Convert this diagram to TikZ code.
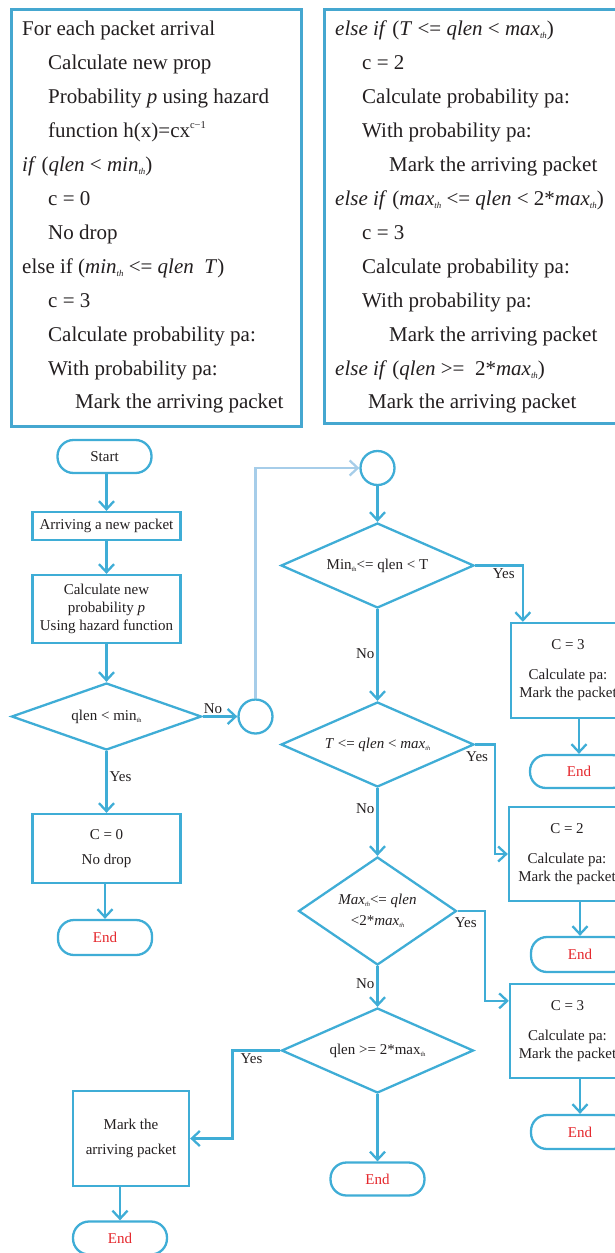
\documentclass[tikz,border=0pt]{standalone}
\usepackage{fontspec}
\setmainfont{Liberation Serif}
\usepackage{graphicx}
\usepackage{tikz}
\usetikzlibrary{arrows.meta,shapes.geometric}
\usepackage{xcolor}
\definecolor{Flow}{HTML}{3FADD6}
\definecolor{Frame}{HTML}{45A7D0}
\definecolor{Pale}{HTML}{A6CDE9}
\definecolor{Ink}{HTML}{231F20}
\definecolor{EndRed}{HTML}{E5262B}
\newcommand{\lowsub}[1]{\raisebox{-0.35ex}{\scalebox{0.42}{#1}}}
\newcommand{\highsup}[1]{\raisebox{0.9ex}{\scalebox{0.5}{#1}}}
\tikzset{
 codebox/.style={draw=Frame, line width=3.2pt, fill=white, anchor=north west, inner sep=0pt},
 codeline/.style={anchor=base west, inner sep=0pt, text=Ink, font=\fontsize{21}{24}\selectfont},
 box/.style={draw=Flow, line width=2.3pt, fill=white, align=center, inner sep=2pt, text=Ink, font=\fontsize{15}{18}\selectfont},
 term/.style={box, rounded corners=16pt, minimum width=94pt, minimum height=33pt},
 endterm/.style={term, text=EndRed},
 decision/.style={box, diamond, shape aspect=2.2, inner sep=0pt},
 joint/.style={circle, draw=Flow, line width=2.3pt, minimum size=34pt, inner sep=0pt},
 flow/.style={-{Straight Barb[length=8pt,width=15pt]}, line width=2.3pt, draw=Flow},
 faint/.style={flow, draw=Pale},
 lbl/.style={text=Ink, inner sep=2pt, font=\fontsize{15}{18}\selectfont}
}

\begin{document}
\begin{tikzpicture}[x=1pt,y=-1pt]
\useasboundingbox (0,0) rectangle (614,1253);
% pseudo code
\node[codebox, minimum width=290pt, minimum height=417pt] (leftcode) at (10,8) {};
\node[codebox, minimum width=294pt, minimum height=414pt] (rightcode) at (323,8) {};
\node[codeline] (la) at (22,35) {For each packet arrival};
\node[codeline] (lb) at (48,69) {Calculate new prop};
\node[codeline] (lc) at (48,103) {Probability \textit{p} using hazard};
\node[codeline] (ld) at (48,137) {function h(x)=cx\highsup{c−1}};
\node[codeline] (le) at (22,171) {\textit{if} (\textit{qlen} < \textit{min}\lowsub{\textit{th}})};
\node[codeline] (lf) at (48,205) {c = 0};
\node[codeline] (lg) at (48,239) {No drop};
\node[codeline] (lh) at (22,273) {else if (\textit{min}\lowsub{\textit{th}} <= \textit{qlen}\enspace\textit{T})};
\node[codeline] (li) at (48,307) {c = 3};
\node[codeline] (lj) at (48,341) {Calculate probability pa:};
\node[codeline] (lk) at (48,375) {With probability pa:};
\node[codeline] (ll) at (75,408) {Mark the arriving packet};
\node[codeline] (ra) at (335,35) {\textit{else if} (\textit{T} <= \textit{qlen} < \textit{max}\lowsub{\textit{th}})};
\node[codeline] (rb) at (362,69) {c = 2};
\node[codeline] (rc) at (362,103) {Calculate probability pa:};
\node[codeline] (rd) at (362,137) {With probability pa:};
\node[codeline] (re) at (389,171) {Mark the arriving packet};
\node[codeline] (rf) at (335,205) {\textit{else if} (\textit{max}\lowsub{\textit{th}} <= \textit{qlen} < 2*\textit{max}\lowsub{\textit{th}})};
\node[codeline] (rg) at (362,239) {c = 3};
\node[codeline] (rh) at (362,273) {Calculate probability pa:};
\node[codeline] (ri) at (362,307) {With probability pa:};
\node[codeline] (rj) at (389,341) {Mark the arriving packet};
\node[codeline] (rk) at (335,375) {\textit{else if} (\textit{qlen} >=\enspace 2*\textit{max}\lowsub{\textit{th}})};
\node[codeline] (rl) at (368,408) {Mark the arriving packet};
% left column
\node[term] (start) at (104.5,456.5) {Start};
\node[box, minimum width=148pt, minimum height=28pt] (arrive) at (106.5,526) {Arriving a new packet};
\node[box, minimum width=148pt, minimum height=68pt] (calcp) at (106.5,609) {Calculate new\\probability \textit{p}\\Using hazard function};
\node[decision, minimum width=190pt, minimum height=67pt] (dmin) at (106.5,716.5) {qlen < min\lowsub{th}};
\node[joint] (jumpa) at (255.5,716.5) {};
\node[box, minimum width=148pt, minimum height=69pt] (zero) at (106.5,848.5) {C = 0\\[7pt]No drop};
\node[endterm, minimum height=35pt] (endzero) at (105,937.5) {End};
% middle column
\node[joint] (jumpb) at (377.5,468) {};
\node[decision, minimum width=193pt, minimum height=85pt] (dlow) at (377.5,565.5) {Min\lowsub{th}<= qlen < T};
\node[decision, minimum width=193pt, minimum height=85pt] (dmid) at (377.5,744.5) {\textit{T} <= \textit{qlen} < \textit{max}\lowsub{\textit{th}}};
\node[decision, shape aspect=1.5, minimum width=158pt, minimum height=108pt] (dhigh) at (377.5,911) {\textit{Max}\lowsub{\textit{th}}<= \textit{qlen}\\[3pt]<2*\textit{max}\lowsub{\textit{th}}};
\node[decision, minimum width=192pt, minimum height=85pt] (dtop) at (377.5,1050.5) {qlen >= 2*max\lowsub{th}};
\node[endterm] (endtop) at (377.5,1179) {End};
\node[box, minimum width=116pt, minimum height=95pt] (mark) at (131,1138.5) {Mark the\\[7pt]arriving packet};
\node[endterm] (endmark) at (120,1238) {End};
% right column
\node[box, minimum width=114pt, minimum height=95pt] (cthree) at (568,670.5) {C = 3\\[12pt]Calculate pa:\\Mark the packet};
\node[endterm, minimum width=98pt] (endthree) at (579,771.5) {End};
\node[box, minimum width=116pt, minimum height=94pt] (ctwo) at (567,854) {C = 2\\[12pt]Calculate pa:\\Mark the packet};
\node[endterm, minimum width=98pt, minimum height=35pt] (endtwo) at (580,954.5) {End};
\node[box, minimum width=115pt, minimum height=94pt] (cthreeb) at (567.5,1031) {C = 3\\[12pt]Calculate pa:\\Mark the packet};
\node[endterm, minimum width=98pt, minimum height=34pt] (endthreeb) at (580,1132) {End};
% connectors
\draw[flow] (start.south -| arrive.north) -- (arrive);
\draw[flow] (arrive) -- (calcp);
\draw[flow] (calcp) -- (dmin);
\draw[flow] (dmin.east) -- node[lbl, pos=0.3, above] {No} (jumpa);
\draw[flow] (dmin.south) -- node[lbl, pos=0.42, right] {Yes} (zero);
\draw[flow] (zero.south -| endzero.north) -- (endzero);
\draw[faint] (jumpa.north) |- (jumpb.west);
\draw[flow] (jumpb) -- (dlow);
\draw[flow] (dlow.east) -| node[lbl, pos=0.3, below] {Yes} ([xshift=13pt]cthree.north west);
\draw[flow] (cthree.south -| endthree.north) -- (endthree.north);
\draw[flow] (dlow.south) -- node[lbl, pos=0.48, left] {No} (dmid.north);
\draw[flow] (dmid.east) -- node[lbl, pos=0.1, below, yshift=-4pt] {Yes} ++(20,0) |- (ctwo.west);
\draw[flow] (ctwo.south -| endtwo.north) -- (endtwo.north);
\draw[flow] (dmid.south) -- node[lbl, pos=0.31, left] {No} (dhigh.north);
\draw[flow] (dhigh.east) -- node[lbl, pos=0.3, below, yshift=-4pt] {Yes} ++(27,0) |- ([yshift=-18pt]cthreeb.north west);
\draw[flow] (cthreeb.south -| endthreeb.north) -- (endthreeb.north);
\draw[flow] (dhigh.south) -- node[lbl, pos=0.42, left] {No} (dtop.north);
\draw[flow] (dtop.south) -- (endtop.north);
\draw[flow] (dtop.west) -- node[lbl, pos=0.6, below] {Yes} ++(-48,0) |- (mark.east);
\draw[flow] (mark.south -| endmark.north) -- (endmark.north);
\end{tikzpicture}
\end{document}
